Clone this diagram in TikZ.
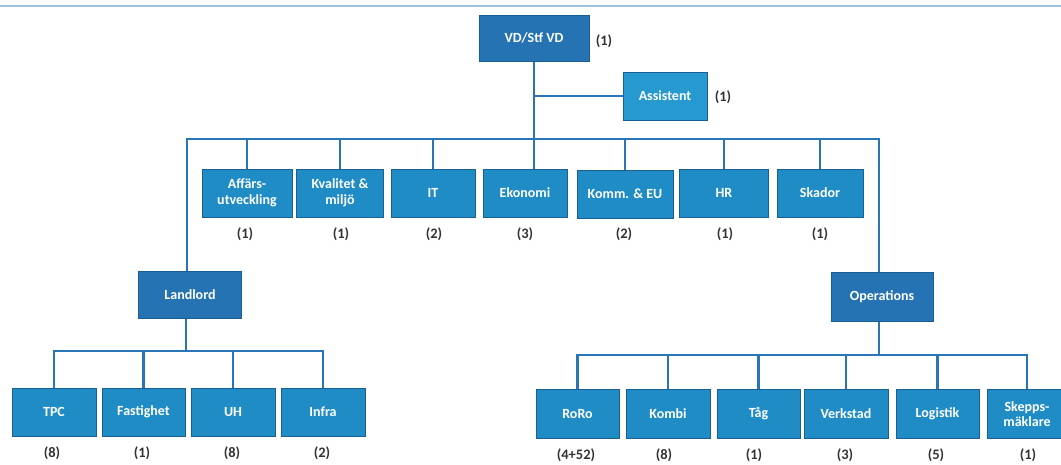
\documentclass[tikz,border=0pt]{standalone}
\usepackage{fontspec}
\setmainfont{Carlito}
\usetikzlibrary{backgrounds}
\definecolor{dkbox}{HTML}{2673B3}
\definecolor{mdbox}{HTML}{1F8CC6}
\definecolor{ltbox}{HTML}{2699D0}
\definecolor{edge}{HTML}{1A5F93}
\definecolor{conn}{HTML}{2876B8}
\definecolor{topline}{HTML}{9CC3DC}
\begin{document}
\begin{tikzpicture}[x=1pt,y=-1pt,
  box/.style={draw=edge, line width=0.6pt, text=white, font=\bfseries\fontsize{14}{15.5}\selectfont, align=center, inner sep=1pt},
  dk/.style={box, fill=dkbox, minimum width=103pt, minimum height=47pt},
  md/.style={box, fill=mdbox, minimum width=84pt, minimum height=48pt},
  lt/.style={box, fill=ltbox, minimum width=84pt, minimum height=48pt},
  cnt/.style={text=black!80, font=\bfseries\fontsize{14.5}{15}\selectfont, inner sep=0pt},
  conn/.style={draw=conn, line width=2.6pt}]
\useasboundingbox (0,0) rectangle (1061,464);
\draw[topline, line width=2pt] (0,6) -- (1061,6);
% top
\node[dk, minimum width=110pt, minimum height=46pt] (vd) at (534,38) {VD/Stf VD};
\node[cnt] (vdn) at (604,41) {(1)};
\node[lt] (as) at (665,96) {Assistent};
\node[cnt] (asn) at (723,97) {(1)};
% row 2
\node[md, minimum width=90pt] (af) at (247,193) {Affärs-\\utveckling};
\node[md, minimum width=87pt] (kv) at (340,193) {Kvalitet \&\\miljö};
\node[md] (it) at (433,193) {IT};
\node[md] (ek) at (525,193) {Ekonomi};
\node[md, minimum width=96pt] (ko) at (625,194) {Komm. \& EU};
\node[md, minimum width=89pt] (hr) at (724,193) {HR};
\node[md, minimum width=86pt] (sk) at (820,193) {Skador};
\foreach \n/\t/\x in {afn/(1)/245, kvn/(1)/341, itn/(2)/434, ekn/(3)/525, kon/(2)/624, hrn/(1)/725, skn/(1)/820}
  \node[cnt] (\n) at (\x,234) {\t};
% managers
\node[dk] (ll) at (190,295) {Landlord};
\node[dk, minimum width=102pt, minimum height=49pt] (op) at (882,296.5) {Operations};
% row 3 left
\node[md, minimum width=84pt] (tpc) at (54,412) {TPC};
\node[md, minimum width=83pt] (fa) at (143.5,412) {Fastighet};
\node[md, minimum width=84pt] (uh) at (233,412) {UH};
\node[md, minimum width=84pt] (in) at (323,412) {Infra};
\foreach \n/\t/\x in {tpcn/(8)/52, fan/(1)/142, uhn/(8)/232, inn/(2)/322}
  \node[cnt] (\n) at (\x,453) {\t};
% row 3 right
\node[md, minimum width=83pt, minimum height=49pt] (ro) at (577.5,414) {RoRo};
\node[md, minimum width=84pt, minimum height=49pt] (kb) at (668,414) {Kombi};
\node[md, minimum width=83pt, minimum height=49pt] (tg) at (758.5,414) {Tåg};
\node[md, minimum width=84pt, minimum height=49pt] (vk) at (846,414) {Verkstad};
\node[md, minimum width=83pt, minimum height=49pt] (lg) at (937.5,414) {Logistik};
\node[md, minimum width=80pt, minimum height=49pt] (sm) at (1027,414) {Skepps-\\mäklare};
\foreach \n/\t/\x in {ron/(4+52)/576, kbn/(8)/664, tgn/(1)/754, vkn/(3)/845, lgn/(5)/936, smn/(1)/1028}
  \node[cnt] (\n) at (\x,455) {\t};
% connectors
\coordinate (b1l) at (187,139);
\coordinate (b1r) at (879,139);
\begin{scope}[on background layer]
\draw[conn] (vd.south) -- (vd.south |- ek.north);
\draw[conn] (vd.south |- as.west) -- (as.west);
\draw[conn, line cap=rect] (b1l) -- (b1r);
\draw[conn] (b1l) -- (b1l |- ll.north);
\draw[conn] (b1r) -- (b1r |- op.north);
\foreach \b in {af,kv,it,ko,hr,sk}
  \draw[conn] (b1l -| \b.north) -- (\b.north);
\coordinate (b2) at (186,351);
\draw[conn] (b2 |- ll.south) -- (b2);
\draw[conn, line cap=rect] (tpc.north |- b2) -- (in.north |- b2);
\foreach \b in {tpc,fa,uh,in}
  \draw[conn] (b2 -| \b.north) -- (\b.north);
\coordinate (b3) at (879,355);
\draw[conn] (b3 |- op.south) -- (b3);
\draw[conn, line cap=rect] (ro.north |- b3) -- (sm.north |- b3);
\foreach \b in {ro,kb,tg,vk,lg,sm}
  \draw[conn] (b3 -| \b.north) -- (\b.north);
\end{scope}
\end{tikzpicture}
\end{document}
